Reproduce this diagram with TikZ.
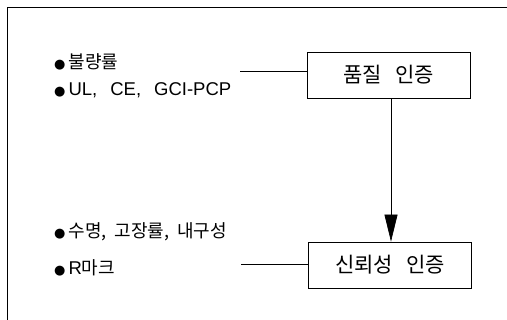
\documentclass[tikz,border=0pt]{standalone}
\usepackage{fontspec}
\setmainfont{Noto Sans CJK KR}
\newfontfamily\itemfont{Noto Sans CJK KR}
\newfontfamily\latinfont{Liberation Sans}
\newfontfamily\symfont{DejaVu Sans}
\newcommand{\blt}{{\symfont\fontsize{13}{15}\selectfont ●}\hspace{3pt}}
\usetikzlibrary{arrows.meta}
\begin{document}
\begin{tikzpicture}[x=1pt,y=-1pt,
  certbox/.style={draw,line width=0.8pt,minimum width=163pt,minimum height=46pt,inner sep=0pt,font=\fontsize{21}{23}\selectfont},
  item/.style={anchor=west,inner sep=0pt,font=\itemfont\fontsize{18}{20}\selectfont},
  link/.style={line width=0.7pt}]
\useasboundingbox (0,0) rectangle (507,320);
\draw[line width=0.8pt] (7,320) -- (7,7) -- (507,7);
\node[certbox] (q) at (388.5,75) {품질\hspace{13pt}인증};
\node[certbox] (r) at (390,265) {신뢰성\hspace{13pt}인증};
\node[item] (a1) at (54,62) {\blt 불량률};
\node[item] (a2) at (54,90) {\blt{\latinfont\fontsize{18.5}{20}\selectfont UL,\hspace{13pt}CE,\hspace{13pt}GCI-PCP}};
\node[item] (b1) at (54,232) {\blt 수명,\hspace{8pt}고장률,\hspace{8pt}내구성};
\node[item] (b2) at (54,268) {\blt{\latinfont\fontsize{18.5}{20}\selectfont R}마크};
\coordinate (qa) at (240,71);
\coordinate (rb) at (241,264);
\draw[link] (qa) -- (q.west |- qa);
\draw[link] (rb) -- (r.west |- rb);
\draw[link,-{Triangle[length=27pt,width=13pt]}] (q.south -| 391,0) -- (r.north -| 391,0);
\end{tikzpicture}
\end{document}
